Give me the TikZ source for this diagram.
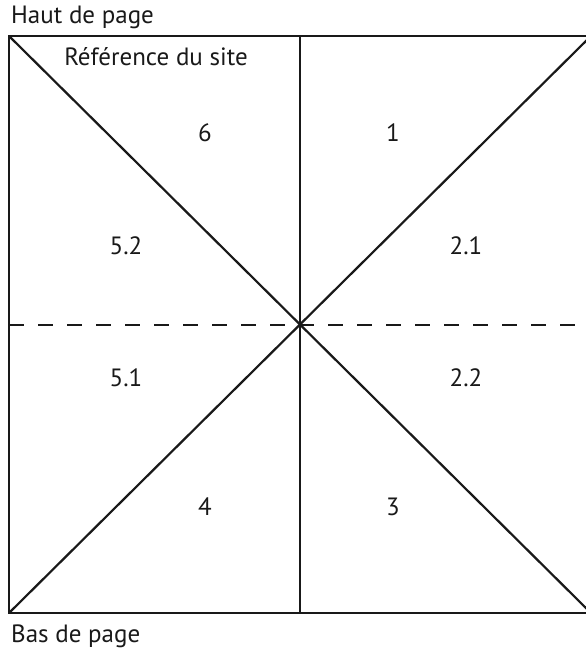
\documentclass[tikz,border=0pt]{standalone}
\usepackage{fontspec}
\setmainfont{PT Sans}
\usetikzlibrary{positioning}
\tikzset{
  edge/.style={line width=2.2pt, draw=black!90},
  fold/.style={line width=2pt, draw=black!90, dash pattern=on 15pt off 14pt},
  zone/.style={font=\fontsize{25}{29}\selectfont, text=black!90, inner sep=0pt},
  caption/.style={font=\fontsize{25}{29}\selectfont, text=black!90, inner sep=0pt, anchor=west}
}
\begin{document}
\begin{tikzpicture}[x=1pt, y=-1pt]
\useasboundingbox (0,0) rectangle (586,651);
\begin{scope}
\clip (0,0) rectangle (586,651);
% page frame
\coordinate (tl) at (9,36);
\coordinate (tr) at (591,36);
\coordinate (bl) at (9,613);
\coordinate (br) at (591,613);
\coordinate (mid) at (300,324.5);
\coordinate (tm) at (300,36);
\coordinate (bm) at (300,613);
\coordinate (lm) at (9,324.5);
\coordinate (rm) at (591,324.5);
\draw[edge] (tl) rectangle (br);
\draw[edge] (tl) -- (mid) -- (br);
\draw[edge] (bl) -- (mid) -- (tr);
\draw[edge] (tm) -- (bm);
\draw[fold] (lm) -- (rm);
\end{scope}
% labels
\node[caption] (haut) at (11,17) {Haut de page};
\node[caption] (bas) at (11,636) {Bas de page};
\node[zone] (ref) at (156,57) {Référence du site};
\node[zone] (z6) at (205,133) {6};
\node[zone] (z1) at (393,133) {1};
\node[zone] (z52) at (126,246) {5.2};
\node[zone] (z21) at (466,246) {2.1};
\node[zone] (z51) at (126,378) {5.1};
\node[zone] (z22) at (466,378) {2.2};
\node[zone] (z4) at (205,507) {4};
\node[zone] (z3) at (393,507) {3};
\end{tikzpicture}
\end{document}
